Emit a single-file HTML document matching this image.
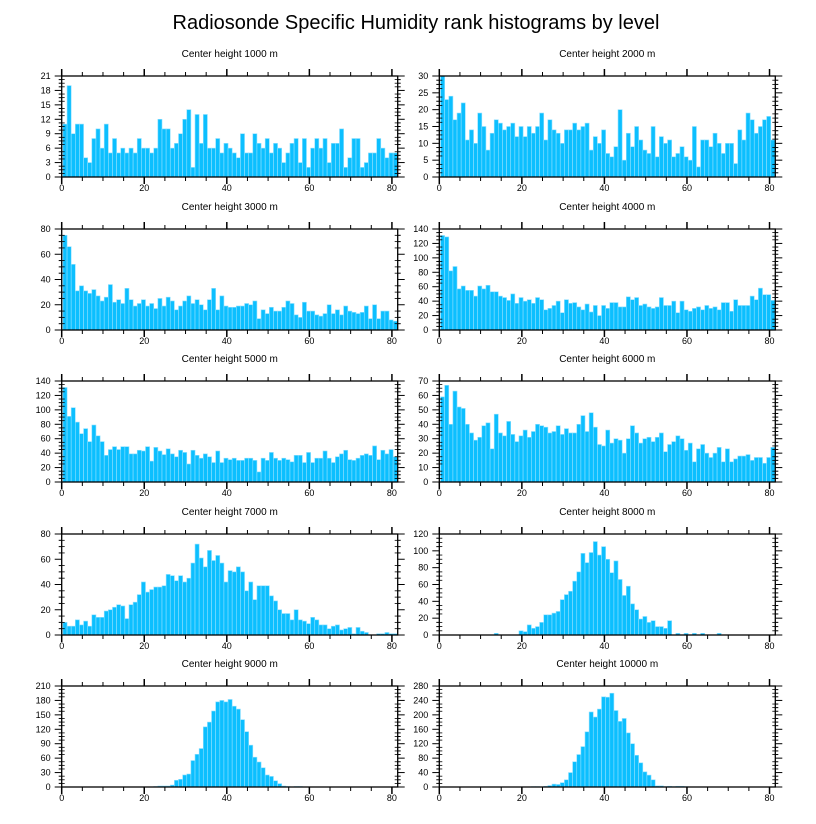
<!DOCTYPE html>
<html><head><meta charset="utf-8">
<style>
html,body{margin:0;padding:0;background:#fff;}
svg{display:block;font-family:"Liberation Sans",sans-serif;}
</style></head>
<body>
<svg id="chart" width="816" height="824" viewBox="0 0 816 824">
<text x="416" y="29" font-size="20" text-anchor="middle">Radiosonde Specific Humidity rank histograms by level</text>
</svg>
<script>
const levels = [1000,2000,3000,4000,5000,6000,7000,8000,9000,10000];
const yMaxes = [21,30,80,140,140,70,80,120,210,280];
const yStepsMajor = [3,5,20,20,20,10,20,20,30,40];
const xTicks = [0,20,40,60,80];
const counts1000 = [11,19,9,11,11,4,3,8,10,6,11,5,8,5,6,5,6,5,8,6,6,5,6,12,10,10,6,7,9,12,14,2,13,7,13,6,6,8,5,7,6,5,4,9,5,5,9,7,6,8,5,7,6,3,5,7,8,3,8,2,6,8,6,8,3,7,7,10,2,4,8,8,2,3,5,5,8,6,4,5,5];
const counts2000 = [30,23,24,17,19,22,11,14,10,19,15,8,13,17,16,14,15,16,12,15,12,15,13,15,19,11,17,14,13,10,14,14,16,14,15,16,8,12,10,14,7,6,9,20,5,13,9,15,11,8,7,15,6,12,10,11,6,7,9,6,5,15,3,11,11,9,13,10,7,10,10,4,14,11,19,17,13,15,17,18,11];
const counts3000 = [75,66,52,31,35,31,29,32,27,23,26,36,22,24,21,33,24,19,21,24,19,21,17,25,19,26,23,16,19,23,27,21,24,20,16,24,33,16,27,19,18,18,19,19,21,20,23,9,16,13,18,15,15,18,23,21,12,10,22,15,15,12,11,13,20,13,16,12,19,15,14,13,14,19,9,20,9,15,15,8,7];
const counts4000 = [131,129,82,88,57,61,55,55,47,61,57,62,53,53,47,45,41,50,37,45,40,42,37,45,42,28,30,34,40,24,42,37,38,32,28,36,25,34,20,34,30,38,38,32,32,46,42,45,34,36,32,30,32,45,34,34,40,24,40,28,26,30,32,28,34,30,32,28,38,38,26,42,34,34,34,47,42,58,49,49,41];
const counts5000 = [131,91,103,83,67,74,56,79,64,56,37,45,49,45,49,49,39,39,44,43,49,29,48,43,38,46,39,35,44,41,25,44,37,33,39,35,27,43,27,33,31,33,30,30,33,33,30,14,33,30,41,33,30,33,31,28,37,37,27,41,27,33,33,43,33,27,35,39,44,31,30,33,37,39,37,50,31,44,39,45,35];
const counts6000 = [59,67,40,63,52,51,40,34,29,31,39,41,23,47,34,32,42,33,28,32,36,31,35,40,39,38,34,35,39,33,37,34,34,40,46,35,48,38,26,25,36,27,30,29,20,30,39,34,27,30,31,28,31,34,21,26,28,32,30,22,27,14,23,26,20,17,20,24,14,23,14,16,18,18,19,15,17,17,13,17,24];
const counts7000 = [10,7,7,12,8,11,7,16,14,14,19,20,22,24,23,13,24,26,32,42,34,36,38,38,39,48,47,43,47,42,45,57,72,61,54,67,59,63,57,42,51,50,54,50,35,42,28,39,39,39,31,27,20,17,17,12,20,12,11,9,14,12,8,8,5,7,8,4,5,6,1,6,3,2,0,0,1,1,2,1,1];
const counts8000 = [0,0,0,0,0,0,0,0,0,0,0,0,0,2,0,0,0,0,0,5,4,12,8,10,15,24,24,26,28,42,48,52,64,75,97,86,98,111,95,105,90,74,88,66,47,58,37,30,19,22,15,17,10,10,8,17,0,2,0,2,0,2,0,2,0,0,0,2,0,0,0,0,0,0,0,0,0,0,0,0,0];
const counts9000 = [0,0,0,0,0,0,0,0,0,0,0,0,0,0,0,0,0,0,0,0,0,0,1,2,2,2,4,14,16,25,27,55,68,80,125,135,158,177,180,177,182,168,162,140,115,87,62,52,40,25,22,13,7,2,1,0,1,1,0,0,0,0,0,0,0,0,0,0,0,0,0,0,0,0,0,0,0,0,0,0,0];
const counts10000 = [0,0,0,0,0,0,0,0,0,0,0,0,0,0,0,0,0,0,0,0,0,0,1,1,0,2,4,8,7,12,20,40,70,90,112,153,208,194,216,250,249,260,212,182,190,150,120,88,67,42,33,20,3,3,1,2,1,2,2,1,0,0,0,0,0,0,0,0,0,0,0,0,0,0,0,0,0,0,0,0,0];
const allCounts = [counts1000,counts2000,counts3000,counts4000,counts5000,counts6000,counts7000,counts8000,counts9000,counts10000];

const NS = "http://www.w3.org/2000/svg";
const svg = document.getElementById('chart');
const X0 = 81.4;
function mk(tag, attrs, parent){
  const e = document.createElementNS(NS, tag);
  for (const k in attrs) e.setAttribute(k, attrs[k]);
  parent.appendChild(e);
  return e;
}
const colLeft = [61.7, 439.3];
const panelW = 336;
const rowTop = [76, 229, 381, 534, 686];
const panelH = 101;

for (let p = 0; p < levels.length; p++){
  const col = p % 2, row = Math.floor(p / 2);
  const L = colLeft[col], T = rowTop[row], R = L + panelW, B = T + panelH;
  const yMax = yMaxes[p], counts = allCounts[p];
  const xs = v => L + v / X0 * panelW;
  const ys = v => B - v / yMax * panelH;
  const g = mk('g', {}, svg);
  
  

  const t = mk('text', {x: (L + R) / 2, y: T - 19, 'font-size': 10, 'text-anchor': 'middle'}, g);
  t.textContent = 'Center height ' + levels[p] + ' m';
  
  

  for (let i = 0; i < counts.length; i++){
    if (counts[i] <= 0) continue;
    const b = mk('rect', {x: xs(i + 0.3), y: ys(counts[i]), width: xs(i + 1.3) - xs(i + 0.3), height: B - ys(counts[i]), fill: '#0cbfff', stroke: '#8fe0ff', 'stroke-width': 0.6}, g);
    
    
  }

  const f = mk('rect', {x: L, y: T, width: panelW, height: panelH, fill: 'none', stroke: '#000', 'stroke-width': 1.3}, g);
  
  

  for (let v = 0; v <= 80; v += 5){
    const major = v % 20 === 0;
    const len = major ? 7 : 4;
    mk('line', {x1: xs(v), x2: xs(v), y1: B, y2: B + len, stroke: '#000', 'stroke-width': major ? 1.5 : 1}, g);
    mk('line', {x1: xs(v), x2: xs(v), y1: T, y2: T - len, stroke: '#000', 'stroke-width': major ? 1.5 : 1}, g);
  }
  for (const v of xTicks){
    const tl = mk('text', {x: xs(v), y: B + 14, 'font-size': 9, 'text-anchor': 'middle'}, g);
    tl.textContent = v;
    
    
  }
  const step = yStepsMajor[p];
  const minor = step / 4;
  for (let k = 0; k * minor <= yMax + 1e-9; k++){
    const v = k * minor;
    const major = k % 4 === 0;
    const len = major ? 7 : 3;
    mk('line', {x1: L, x2: L - len, y1: ys(v), y2: ys(v), stroke: '#000', 'stroke-width': 1}, g);
    mk('line', {x1: R, x2: R + len, y1: ys(v), y2: ys(v), stroke: '#000', 'stroke-width': 1}, g);
    if (!major){
      mk('line', {x1: L, x2: L + 3, y1: ys(v), y2: ys(v), stroke: '#000', 'stroke-width': 0.8}, g);
      mk('line', {x1: R, x2: R - 3, y1: ys(v), y2: ys(v), stroke: '#000', 'stroke-width': 0.8}, g);
    }
    if (major){
      const yl = mk('text', {x: L - 11, y: ys(v) + 3, 'font-size': 9, 'text-anchor': 'end'}, g);
      yl.textContent = v;
      
      
    }
  }
}
</script>
</body></html>
